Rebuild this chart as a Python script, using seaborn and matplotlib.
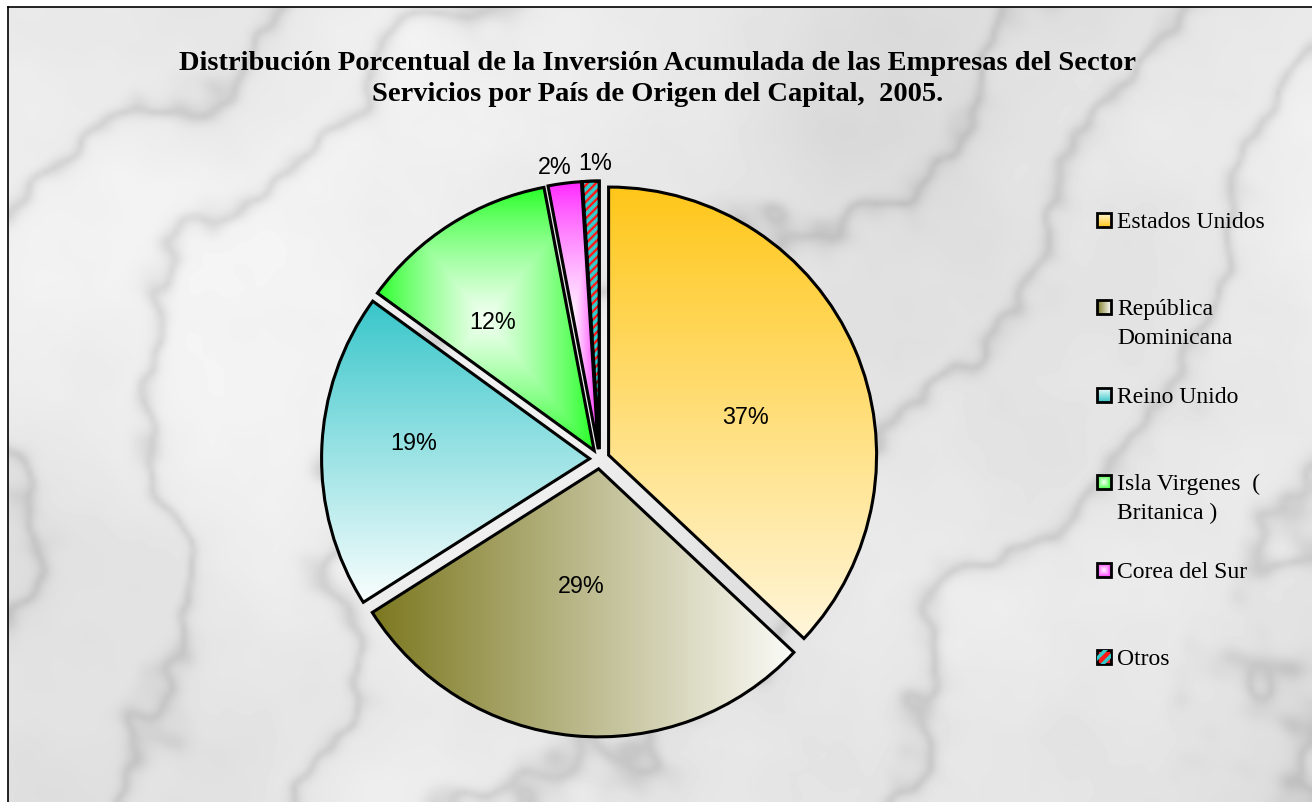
import numpy as np
import matplotlib
matplotlib.use("Agg")
import matplotlib.pyplot as plt
from matplotlib.patches import Wedge, Rectangle
from matplotlib.colors import to_rgb
import seaborn as sns

# --- data -------------------------------------------------------------
countries = ["Estados Unidos", "República\nDominicana", "Reino Unido",
             "Isla Virgenes  (\nBritanica )", "Corea del Sur", "Otros"]
shares = [37, 29, 19, 12, 2, 1]

title = ("Distribución Porcentual de la Inversión Acumulada de las Empresas del Sector\n"
         "Servicios por País de Origen del Capital,  2005.")

# fill per slice: (gradient kind, edge/start colour, end colour)
fills = [("v", "#FFC71A", "#FFF6DA"),
         ("h", "#7C7820", "#FBFBF8"),
         ("v", "#38C6CA", "#FAFEFE"),
         ("c", "#22FF22", "#F6FFF6"),
         ("c", "#FF22FF", "#FFF2FF"),
         ("solid", "#FF1A1A", None)]
hatch_color = "#33CCCC"

# label placement (fraction of radius, degrees of turn off the bisector)
label_dist = [0.53, 0.445, 0.66, 0.61, 1.065, 1.065]
label_turn = [-8, -3, -3, 6, 1.5, -1]

W, H = 1312, 802


def gradient_fill(ax, patch, kind, c0, c1, zorder):
    ext = patch.get_patch_transform().transform_path(patch.get_path()).get_extents()
    n = 200
    yy, xx = np.mgrid[0:1:n * 1j, 0:1:n * 1j]
    if kind == "v":
        t = yy
    elif kind == "h":
        t = xx
    else:
        t = 1 - np.maximum(np.abs(xx - 0.5), np.abs(yy - 0.5)) * 2
        t = np.clip(t, 0, 1) ** 0.8
    a, b = np.array(to_rgb(c0)), np.array(to_rgb(c1))
    img = a[None, None, :] * (1 - t[..., None]) + b[None, None, :] * t[..., None]
    im = ax.imshow(img, extent=(ext.x0, ext.x1, ext.y0, ext.y1), origin="upper",
                   aspect="auto", interpolation="bilinear", zorder=zorder)
    im.set_clip_path(patch)


def marble_texture(rows=200, cols=330):
    yy, xx = np.mgrid[0:rows, 0:cols] / 50.0
    turb = np.zeros_like(xx)
    for k in range(24):
        f = 1.18 ** k
        ang = k * 2.39996
        turb += np.sin(f * (np.cos(ang) * xx + np.sin(ang) * yy) + 1.7 * k) / f ** 0.9
    turb = (turb - turb.min()) / (turb.max() - turb.min())
    vein = 1 - np.abs(np.sin(2.2 * xx + 1.6 * yy + 6.0 * turb))
    return 0.85 + 0.11 * turb - 0.13 * vein ** 6


sns.set_theme(style="white")
plt.rcParams["hatch.linewidth"] = 2.5

fig = plt.figure(figsize=(W / 100, H / 100), dpi=100)
fig.patch.set_facecolor("white")

# marble-like backdrop inside the chart frame
bg = fig.add_axes([8 / W, 0, 1 - 8 / W, 1 - 7 / H])
bg.imshow(marble_texture(), cmap="gray", vmin=0, vmax=1, aspect="auto", interpolation="bicubic")
bg.set_xticks([])
bg.set_yticks([])
for side in ["right", "bottom"]:
    bg.spines[side].set_visible(False)
for side in ["top", "left"]:
    bg.spines[side].set_color("black")
    bg.spines[side].set_linewidth(1.2)

# pie axes: radius 1 -> 268 px, centred at (599.5, 459)
L = 1.15
side = 2 * L * 268
ax = fig.add_axes([(599.5 - side / 2) / W, (H - 459 - side / 2) / H, side / W, side / H])
ax.patch.set_alpha(0)

wedges, texts, autotexts = ax.pie(
    shares, explode=[0.037] * len(shares), startangle=90, counterclock=False,
    autopct="%1.0f%%", pctdistance=0.6,
    wedgeprops=dict(edgecolor="black", linewidth=2.2),
    textprops=dict(fontsize=16.8, family="Liberation Sans", color="black"))

for w, (kind, c0, c1) in zip(wedges, fills):
    w.set_zorder(3)
    if kind == "solid":
        w.set_facecolor(c0)
        hatch = Wedge(w.center, w.r, w.theta1, w.theta2, facecolor="none",
                      edgecolor=hatch_color, hatch="////", linewidth=0, zorder=3.5)
        ax.add_patch(hatch)
        edge = Wedge(w.center, w.r, w.theta1, w.theta2, facecolor="none",
                     edgecolor="black", linewidth=2.2, zorder=3.6)
        ax.add_patch(edge)
    else:
        w.set_facecolor("none")
        gradient_fill(ax, w, kind, c0, c1, zorder=2)

for w, t, d, turn in zip(wedges, autotexts, label_dist, label_turn):
    ang = np.deg2rad((w.theta1 + w.theta2) / 2 + turn)
    t.set_position((w.center[0] + d * w.r * np.cos(ang), w.center[1] + d * w.r * np.sin(ang)))
    t.set_zorder(5)

ax.set_xlim(-L, L)
ax.set_ylim(-L, L)
ax.set_aspect("equal")
ax.axis("off")

fig.text(0.5015, 1 - 79 / H, title, ha="center", va="center", ma="center",
         fontsize=20.5, fontweight="bold", family="Liberation Serif", linespacing=1.3,
         color="black")

# legend drawn in pixel space
lax = fig.add_axes([0, 0, 1, 1])
lax.set_xlim(0, W)
lax.set_ylim(H, 0)
lax.axis("off")
lax.patch.set_alpha(0)
leg_y0, leg_step = 220, 87.4
for i, (name, (kind, c0, c1)) in enumerate(zip(countries, fills)):
    y = leg_y0 + i * leg_step
    sq = Rectangle((1097, y - 7), 14, 14, facecolor="none", edgecolor="black",
                   linewidth=2.0, zorder=4)
    lax.add_patch(sq)
    if kind == "solid":
        sq.set_facecolor(c0)
        lax.add_patch(Rectangle((1097, y - 7), 14, 14, facecolor="none",
                                edgecolor=hatch_color, hatch="///", linewidth=0, zorder=4.5))
    else:
        gradient_fill(lax, sq, kind, c0, c1, zorder=3)
    lax.text(1117, y - 8, name, ha="left", va="top", fontsize=17,
             family="Liberation Serif", color="black", linespacing=1.45)
lax.set_xlim(0, W)
lax.set_ylim(H, 0)

fig.savefig("out.png", dpi=100)
